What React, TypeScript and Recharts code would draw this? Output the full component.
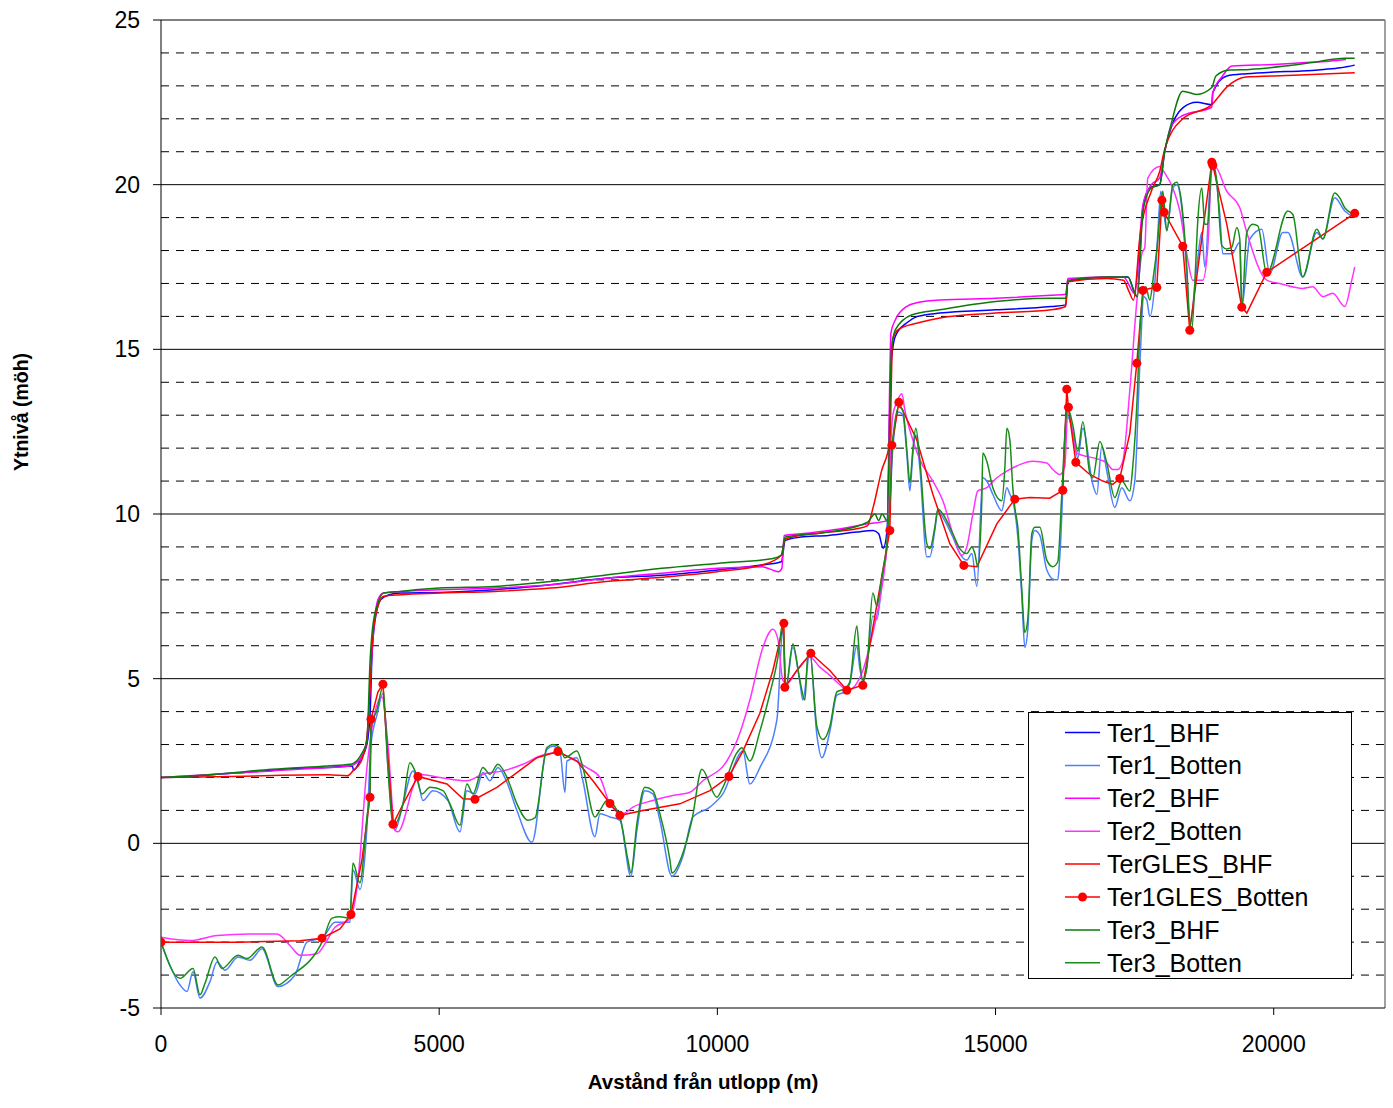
import { LineChart, Line, XAxis, YAxis, ReferenceLine, Legend } from 'recharts';

// axis ticks
const xTicks = [0, 5000, 10000, 15000, 20000];
const yTicks = [-5, 0, 5, 10, 15, 20, 25];
const majorLevels = [0, 5, 10, 15, 20, 25];
const minorLevels = [-4, -3, -2, -1, 1, 2, 3, 4, 6, 7, 8, 9, 11, 12, 13, 14, 16, 17, 18, 19, 21, 22, 23, 24];

// [avstånd (m), nivå (möh)]
const ter1Bhf: [number, number][] = [
  [0, 2.0], [500, 2.02], [1000, 2.1], [1500, 2.15], [2000, 2.22], [2500, 2.28], [3000, 2.3], [3440, 2.35], [3460, 2.22],
  [3600, 2.6], [3700, 3.0], [3760, 4.0], [3790, 5.6], [3850, 6.8], [3950, 7.4], [4100, 7.55], [4300, 7.6], [5000, 7.62],
  [6000, 7.7], [7000, 7.85], [8000, 8.05], [9000, 8.14], [10000, 8.3], [10800, 8.45], [11150, 8.55], [11220, 9.2],
  [11500, 9.3], [12000, 9.35], [12500, 9.45], [12800, 9.5], [12900, 9.4], [12980, 8.96], [13050, 9.5], [13120, 14.5],
  [13200, 15.4], [13400, 15.8], [13600, 16.0], [14000, 16.1], [15000, 16.2], [16000, 16.3], [16260, 16.35], [16300, 17.05],
  [16600, 17.15], [17000, 17.2], [17380, 17.2], [17540, 16.6], [17650, 19.3], [17770, 19.9], [17950, 20.0], [18040, 21.0],
  [18130, 21.6], [18365, 22.33], [18617, 22.5], [18887, 22.43], [18905, 22.8], [19156, 23.3], [19516, 23.37], [20000, 23.42],
  [20500, 23.45], [20900, 23.5], [21200, 23.55], [21456, 23.63],
];

const ter1Botten: [number, number][] = [
  [0, -3.0], [341, -4.3], [467, -4.5], [575, -3.9], [701, -4.7], [880, -4.2], [1007, -3.6], [1150, -3.85], [1384, -3.45],
  [1600, -3.55], [1815, -3.2], [2102, -4.35], [2408, -4.0], [2623, -3.0], [2911, -2.85], [3127, -2.4], [3396, -2.4],
  [3450, -0.8], [3576, -1.4], [3702, 0.5], [3774, 3.0], [3882, 3.9], [3989, 4.55], [4079, 2.3], [4205, 0.4], [4349, 1.2],
  [4528, 2.2], [4618, 1.9], [4708, 1.3], [4888, 1.6], [5157, 1.3], [5373, 0.35], [5499, 1.6], [5643, 1.5], [5786, 2.15],
  [5912, 1.9], [6056, 2.3], [6218, 1.85], [6397, 1.0], [6667, 0.03], [6936, 2.85], [7044, 2.95], [7170, 2.8], [7260, 1.55],
  [7296, 2.5], [7476, 2.6], [7583, 1.9], [7799, 0.2], [7889, 0.9], [8069, 0.8], [8248, 0.7], [8446, -1.0], [8554, 0.4],
  [8697, 1.6], [8841, 1.5], [8967, 0.7], [9183, -1.0], [9380, -0.4], [9560, 0.8], [9866, 1.1], [10099, 1.5], [10459, 2.8],
  [10584, 1.8], [10764, 2.3], [11070, 3.75], [11177, 6.5], [11231, 4.7], [11357, 5.95], [11483, 4.9], [11537, 4.35],
  [11663, 5.8], [11788, 3.3], [11878, 2.6], [12022, 3.4], [12148, 4.5], [12291, 4.6], [12381, 4.85], [12507, 6.0],
  [12561, 5.3], [12615, 4.9], [12687, 5.35], [12795, 6.9], [12867, 6.8], [12956, 7.9], [13046, 9.0], [13100, 10.2],
  [13154, 12.0], [13262, 13.1], [13334, 13.0], [13406, 11.8], [13460, 10.7], [13513, 11.8], [13567, 12.4], [13639, 11.4],
  [13765, 8.7], [13819, 8.7], [13909, 9.5], [13963, 10.1], [14053, 9.9], [14232, 9.3], [14358, 8.8], [14484, 8.6],
  [14574, 8.8], [14664, 7.8], [14771, 11.1], [14843, 11.0], [14951, 10.6], [15113, 10.1], [15203, 10.8], [15257, 10.6],
  [15310, 10.4], [15400, 9.3], [15472, 7.5], [15526, 5.95], [15580, 6.5], [15652, 9.2], [15706, 9.5], [15796, 9.35],
  [15921, 8.3], [16065, 8.0], [16119, 8.0], [16155, 8.7], [16281, 13.0], [16389, 12.5], [16479, 11.7], [16568, 12.6],
  [16748, 10.9], [16820, 10.6], [16910, 12.05], [17000, 11.3], [17143, 10.2], [17269, 10.8], [17413, 10.4], [17503, 11.0],
  [17593, 14.5], [17665, 16.6], [17718, 16.5], [17772, 16.0], [17862, 17.0], [17916, 18.5], [17970, 19.8], [18078, 18.6],
  [18186, 19.9], [18258, 20.0], [18347, 19.3], [18437, 17.3], [18491, 15.75], [18617, 17.5], [18707, 18.55], [18761, 17.5],
  [18887, 20.6], [19031, 19.1], [19084, 17.9], [19246, 17.9], [19390, 18.25], [19426, 16.3], [19570, 18.35], [19785, 18.65],
  [19929, 17.3], [20163, 18.55], [20253, 18.55], [20522, 17.2], [20774, 18.55], [20882, 18.35], [21097, 19.6], [21277, 19.2],
  [21456, 19.0],
];

const ter2Bhf: [number, number][] = [
  [0, 2.0], [1000, 2.1], [2000, 2.2], [3000, 2.3], [3400, 2.35], [3600, 2.6], [3700, 3.1], [3750, 4.5], [3800, 6.0],
  [3900, 7.4], [4000, 7.6], [5000, 7.7], [6000, 7.75], [7000, 7.85], [8000, 8.05], [9000, 8.2], [10000, 8.35], [10800, 8.4],
  [11100, 8.25], [11160, 8.35], [11200, 9.35], [11500, 9.4], [12000, 9.5], [12700, 9.7], [13050, 9.8], [13120, 15.5],
  [13200, 15.9], [13400, 16.3], [13600, 16.42], [14000, 16.5], [15000, 16.55], [16000, 16.64], [16260, 16.67], [16300, 17.15],
  [17000, 17.2], [17300, 17.2], [17500, 16.7], [17650, 19.4], [17800, 20.0], [17950, 20.2], [18040, 21.0], [18150, 21.75],
  [18365, 22.1], [18887, 22.35], [18905, 22.8], [19080, 23.3], [19250, 23.6], [20000, 23.65], [20500, 23.7], [21000, 23.75],
  [21300, 23.8],
];

const ter2Botten: [number, number][] = [
  [0, -2.85], [521, -2.95], [1007, -2.8], [1600, -2.75], [2084, -2.75], [2318, -3.1], [2498, -3.4], [2803, -3.35],
  [2983, -2.95], [3127, -2.55], [3396, -2.3], [3540, -1.1], [3702, 2.3], [3971, 4.45], [4079, 3.0], [4205, 0.4], [4259, 0.35],
  [4528, 1.7], [4618, 2.1], [5014, 2.0], [5499, 1.9], [5786, 2.1], [6146, 2.2], [6505, 2.4], [6811, 2.65], [7116, 2.75],
  [7350, 2.6], [7655, 2.3], [7889, 2.0], [8069, 1.2], [8302, 0.9], [8482, 1.1], [8841, 1.3], [9201, 1.45], [9506, 1.55],
  [9740, 1.9], [10171, 2.5], [10405, 3.35], [10584, 4.35], [10818, 5.95], [10998, 6.5], [11088, 6.2], [11177, 4.95],
  [11249, 4.85], [11429, 5.25], [11663, 5.65], [11842, 5.35], [12022, 5.1], [12148, 4.9], [12345, 4.65], [12615, 5.25],
  [12795, 6.4], [12921, 7.4], [13010, 8.4], [13064, 9.4], [13100, 11.4], [13154, 13.0], [13226, 13.4], [13316, 13.65],
  [13370, 13.15], [13513, 12.25], [13639, 11.65], [13873, 11.0], [14053, 10.4], [14232, 9.4], [14394, 8.75], [14484, 9.0],
  [14592, 10.0], [14681, 10.7], [14843, 10.8], [15023, 11.1], [15203, 11.3], [15436, 11.5], [15670, 11.6], [15921, 11.55],
  [16029, 11.35], [16155, 11.2], [16245, 11.45], [16299, 13.15], [16461, 11.85], [16640, 11.75], [16874, 11.65],
  [17000, 11.55], [17108, 11.35], [17197, 11.35], [17287, 11.6], [17413, 13.75], [17539, 16.45], [17629, 17.9],
  [17683, 18.1], [17736, 20.2], [17952, 20.55], [18042, 20.35], [18186, 19.9], [18312, 19.2], [18437, 17.9], [18545, 17.1],
  [18725, 17.1], [18815, 18.1], [18887, 20.45], [18941, 20.55], [19156, 19.8], [19390, 19.3], [19516, 18.55], [19875, 17.1],
  [20109, 17.0], [20522, 16.85], [20702, 16.9], [20882, 16.6], [21061, 16.7], [21277, 16.3], [21403, 17.1], [21456, 17.5],
];

const terGlesBhf: [number, number][] = [
  [0, 2.0], [1000, 2.02], [2000, 2.06], [3000, 2.08], [3350, 2.05], [3450, 2.2], [3600, 2.5], [3700, 3.2], [3750, 4.5],
  [3800, 6.2], [3900, 7.2], [4000, 7.5], [4300, 7.55], [5000, 7.6], [6000, 7.65], [7000, 7.75], [8000, 7.95], [9000, 8.08],
  [10000, 8.25], [10800, 8.45], [11150, 8.75], [11220, 9.25], [12000, 9.45], [12500, 9.55], [12700, 9.65], [12800, 10.2],
  [12950, 11.3], [13100, 12.2], [13150, 15.3], [13250, 15.6], [13600, 15.8], [14000, 15.95], [15000, 16.1], [16000, 16.2],
  [16260, 16.3], [16300, 17.05], [17000, 17.15], [17300, 17.1], [17400, 16.75], [17480, 16.5], [17600, 18.5], [17800, 19.8],
  [17950, 20.4], [18040, 21.07], [18365, 22.0], [18887, 22.43], [19180, 23.0], [19500, 23.27], [20000, 23.3], [21000, 23.37],
  [21456, 23.4],
];

// third value 1 = point drawn with a marker
const ter1GlesBotten: [number, number, number][] = [
  [0, -3.0, 1], [1400, -3.0, 0], [2500, -2.96, 0], [2893, -2.88, 1], [3217, -2.6, 0], [3414, -2.16, 1], [3612, -0.5, 0],
  [3756, 1.4, 1], [3774, 3.77, 1], [3900, 4.6, 0], [3989, 4.83, 1], [4040, 3.5, 0], [4169, 0.58, 1], [4385, 1.3, 0],
  [4618, 2.03, 1], [5140, 1.8, 0], [5427, 1.35, 0], [5643, 1.34, 1], [6038, 1.7, 0], [6397, 2.15, 0], [6757, 2.6, 0],
  [7134, 2.79, 1], [7476, 2.5, 0], [7763, 1.9, 0], [8069, 1.21, 1], [8248, 0.85, 1], [8662, 1.0, 0], [9326, 1.2, 0],
  [9866, 1.6, 0], [10207, 2.03, 1], [10459, 2.8, 0], [10764, 3.95, 0], [10998, 5.25, 0], [11195, 6.68, 1], [11213, 4.74, 1],
  [11429, 5.25, 0], [11680, 5.77, 1], [12022, 5.25, 0], [12327, 4.65, 1], [12615, 4.8, 1], [13100, 9.5, 1], [13136, 12.09, 1],
  [13262, 13.39, 1], [13585, 12.25, 0], [13873, 10.6, 0], [14178, 9.1, 0], [14430, 8.44, 1], [14664, 8.4, 0], [15023, 9.7, 0],
  [15346, 10.45, 1], [15616, 10.5, 0], [15975, 10.48, 0], [16209, 10.72, 1], [16280, 13.79, 1], [16310, 13.24, 1],
  [16443, 11.57, 1], [16694, 11.2, 0], [16928, 11.0, 0], [17108, 10.9, 0], [17233, 11.08, 1], [17413, 12.45, 0],
  [17539, 14.58, 1], [17647, 16.79, 1], [17772, 16.85, 0], [17898, 16.88, 1], [17990, 19.53, 1], [18030, 19.16, 1],
  [18365, 18.13, 1], [18491, 15.58, 1], [18887, 20.68, 1], [18905, 20.59, 1], [19156, 18.8, 0], [19426, 16.28, 1],
  [19516, 16.1, 0], [19875, 17.34, 1], [21456, 19.13, 1],
];

const ter3Bhf: [number, number][] = [
  [0, 2.0], [1000, 2.1], [2000, 2.25], [3000, 2.35], [3400, 2.4], [3450, 2.42], [3600, 2.7], [3700, 3.1], [3760, 5.6],
  [3800, 6.5], [3900, 7.3], [4000, 7.6], [4300, 7.65], [5000, 7.75], [6000, 7.8], [7000, 7.95], [8000, 8.15], [9000, 8.35],
  [10000, 8.5], [11000, 8.65], [11150, 8.75], [11220, 9.3], [12000, 9.45], [12700, 9.75], [12830, 10.0], [12900, 9.8],
  [12960, 10.0], [13050, 9.8], [13130, 15.0], [13200, 15.6], [13500, 16.05], [14000, 16.2], [15000, 16.45], [16000, 16.55],
  [16260, 16.55], [16300, 17.1], [17000, 17.2], [17380, 17.2], [17480, 16.8], [17550, 16.6], [17650, 19.2], [17800, 19.9],
  [17950, 20.0], [18040, 21.0], [18150, 21.8], [18365, 22.84], [18617, 22.74], [18887, 22.95], [18960, 23.3], [19200, 23.48],
  [19570, 23.5], [20200, 23.6], [20650, 23.7], [21280, 23.84], [21456, 23.84],
];

const ter3Botten: [number, number][] = [
  [0, -3.0], [341, -4.1], [575, -3.8], [701, -4.6], [791, -4.25], [970, -3.45], [1096, -3.8], [1384, -3.4], [1545, -3.5],
  [1815, -3.15], [2102, -4.3], [2318, -4.05], [2911, -2.94], [3073, -2.27], [3217, -2.23], [3396, -2.27], [3450, -0.6],
  [3576, -1.2], [3702, 0.8], [3756, 1.6], [3774, 3.5], [3882, 4.05], [3989, 4.75], [4079, 2.3], [4169, 0.55], [4349, 1.2],
  [4475, 2.45], [4564, 2.2], [4690, 1.5], [4834, 1.7], [5068, 1.6], [5193, 1.2], [5373, 0.55], [5499, 1.8], [5607, 1.5],
  [5786, 2.3], [5912, 2.1], [6056, 2.4], [6218, 2.0], [6397, 1.2], [6595, 0.7], [6721, 0.77], [6936, 2.9], [7044, 3.0],
  [7170, 2.9], [7260, 2.6], [7476, 2.8], [7583, 2.3], [7799, 0.8], [7889, 1.0], [8015, 1.3], [8248, 0.8], [8392, -0.5],
  [8446, -0.9], [8554, 0.6], [8697, 1.7], [8841, 1.6], [8967, 0.9], [9147, -0.5], [9183, -0.9], [9380, -0.3], [9542, 0.7],
  [9722, 2.25], [9991, 1.4], [10099, 1.7], [10351, 2.75], [10441, 2.9], [10584, 2.5], [10764, 3.4], [10944, 4.55],
  [11088, 5.65], [11177, 6.7], [11231, 4.75], [11357, 6.05], [11483, 4.95], [11573, 4.35], [11627, 5.75], [11663, 5.8],
  [11788, 3.55], [11896, 3.15], [12022, 3.55], [12148, 4.6], [12291, 4.7], [12381, 4.9], [12507, 6.6], [12561, 5.55],
  [12615, 4.95], [12687, 5.35], [12795, 7.6], [12867, 7.2], [12956, 8.1], [13046, 9.1], [13100, 10.4], [13154, 12.25],
  [13262, 13.25], [13334, 13.15], [13406, 11.95], [13460, 10.95], [13513, 11.95], [13567, 12.6], [13639, 11.65],
  [13765, 9.1], [13819, 8.95], [13909, 9.6], [13963, 10.15], [14053, 10.0], [14232, 9.4], [14358, 8.95], [14484, 8.8],
  [14574, 9.0], [14628, 8.8], [14681, 8.4], [14753, 10.4], [14771, 11.85], [14843, 11.6], [14951, 10.8], [15113, 10.4],
  [15167, 11.4], [15203, 12.6], [15257, 12.25], [15310, 10.8], [15346, 10.2], [15400, 9.6], [15472, 7.7], [15526, 6.4],
  [15580, 6.8], [15652, 9.4], [15706, 9.6], [15796, 9.6], [15921, 8.6], [16029, 8.4], [16119, 8.55], [16191, 10.6],
  [16281, 13.15], [16299, 13.2], [16389, 12.7], [16479, 11.9], [16568, 12.8], [16694, 11.25], [16748, 11.1], [16874, 12.2],
  [17000, 11.55], [17143, 10.5], [17269, 11.0], [17413, 10.7], [17467, 11.45], [17539, 13.3], [17593, 15.5], [17647, 16.6],
  [17700, 16.9], [17772, 16.5], [17844, 17.3], [17916, 18.3], [17970, 19.4], [18006, 19.8], [18078, 18.6], [18186, 20.0],
  [18258, 20.07], [18347, 19.4], [18437, 17.5], [18491, 15.85], [18527, 15.6], [18581, 17.0], [18635, 18.9], [18707, 19.9],
  [18761, 18.8], [18815, 18.8], [18887, 20.65], [18905, 20.65], [18977, 20.1], [19066, 18.15], [19156, 18.05], [19246, 18.1],
  [19336, 18.7], [19390, 18.35], [19426, 16.25], [19516, 18.55], [19624, 18.8], [19714, 18.75], [19875, 17.3], [20253, 19.2],
  [20343, 19.1], [20522, 17.2], [20774, 18.65], [20882, 18.35], [21097, 19.75], [21187, 19.6], [21277, 19.3], [21456, 19.1],
];

const FONT = '"Liberation Sans", Arial, sans-serif';

const toPoints = (rows: number[][]) => rows.map(([x, y, m]) => ({ x, y, mark: m === 1 }));

const series = [
  { name: 'Ter1_BHF', color: '#0000ff', data: toPoints(ter1Bhf), marker: false },
  { name: 'Ter1_Botten', color: '#4d80ff', data: toPoints(ter1Botten), marker: false },
  { name: 'Ter2_BHF', color: '#ff00ff', data: toPoints(ter2Bhf), marker: false },
  { name: 'Ter2_Botten', color: '#ff33ff', data: toPoints(ter2Botten), marker: false },
  { name: 'TerGLES_BHF', color: '#ff0000', data: toPoints(terGlesBhf), marker: false },
  { name: 'Ter1GLES_Botten', color: '#ff0000', data: toPoints(ter1GlesBotten), marker: true },
  { name: 'Ter3_BHF', color: '#0b7a0b', data: toPoints(ter3Bhf), marker: false },
  { name: 'Ter3_Botten', color: '#1a8c1a', data: toPoints(ter3Botten), marker: false },
];

const markerDot = (props: any) => {
  const { cx, cy, payload, index } = props;
  if (!payload || !payload.mark) return <g key={`m-${index}`} />;
  return <circle key={`m-${index}`} cx={cx} cy={cy} r={4.5} fill="#ff0000" stroke="none" />;
};

function LegendBox() {
  return (
    <svg width={325} height={268} style={{ display: 'block' }}>
      <rect x={0.5} y={0.5} width={323} height={266} fill="#fff" stroke="#000" />
      {series.map((s, i) => {
        const cy = 20.5 + i * 32.9;
        return (
          <g key={s.name}>
            <line x1={37} x2={72} y1={cy} y2={cy} stroke={s.color} strokeWidth={1.5} />
            {s.marker && <circle cx={54.5} cy={cy} r={4.5} fill="#ff0000" />}
            <text x={79} y={cy + 9} fontSize={25} fontFamily={FONT} fill="#000">
              {s.name}
            </text>
          </g>
        );
      })}
    </svg>
  );
}

export default function App() {
  return (
    <div style={{ position: 'absolute', left: 0, top: 0, width: 1393, height: 1108, background: '#fff' }}>
      <LineChart width={1393} height={1108} margin={{ top: 20, right: 8, left: 101, bottom: 40 }}>
        <XAxis
          type="number"
          dataKey="x"
          domain={[0, 22000]}
          ticks={xTicks}
          allowDataOverflow
          height={60}
          tickSize={7}
          tickMargin={21}
          axisLine={{ stroke: '#000' }}
          tickLine={{ stroke: '#000' }}
          tick={{ fill: '#000', fontSize: 23, fontFamily: FONT }}
          label={{
            content: () => (
              <text x={703} y={1089} textAnchor="middle" fontSize={20.5} fontWeight="bold" fontFamily={FONT} fill="#000">
                Avstånd från utlopp (m)
              </text>
            ),
          }}
        />
        <YAxis
          type="number"
          domain={[-5, 25]}
          ticks={yTicks}
          allowDataOverflow
          width={60}
          tickSize={8}
          tickMargin={13}
          axisLine={{ stroke: '#000' }}
          tickLine={{ stroke: '#000' }}
          tick={{ fill: '#000', fontSize: 23, fontFamily: FONT }}
          label={{
            content: () => (
              <text x={28} y={412} transform="rotate(-90 28 412)" textAnchor="middle" fontSize={19.5} fontWeight="bold" fontFamily={FONT} fill="#000">
                Ytnivå (möh)
              </text>
            ),
          }}
        />
        {minorLevels.map((v) => (
          <ReferenceLine key={`n${v}`} y={v} stroke="#000" strokeWidth={1} strokeDasharray="8 7" />
        ))}
        {majorLevels.map((v) => (
          <ReferenceLine key={`j${v}`} y={v} stroke="#000" strokeWidth={1} />
        ))}
        <ReferenceLine x={22000} stroke="#808080" strokeWidth={1.5} />
        {series.map((s) => (
          <Line
            key={s.name}
            name={s.name}
            data={s.data}
            dataKey="y"
            type={s.marker ? 'linear' : 'monotone'}
            stroke={s.color}
            strokeWidth={1.5}
            dot={s.marker ? markerDot : false}
            activeDot={false}
            isAnimationActive={false}
          />
        ))}
        <Legend
          layout="horizontal"
          verticalAlign="middle"
          align="center"
          content={() => <LegendBox />}
          wrapperStyle={{ position: 'absolute', left: 1028, top: 712, width: 325, height: 268 }}
        />
      </LineChart>
    </div>
  );
}
